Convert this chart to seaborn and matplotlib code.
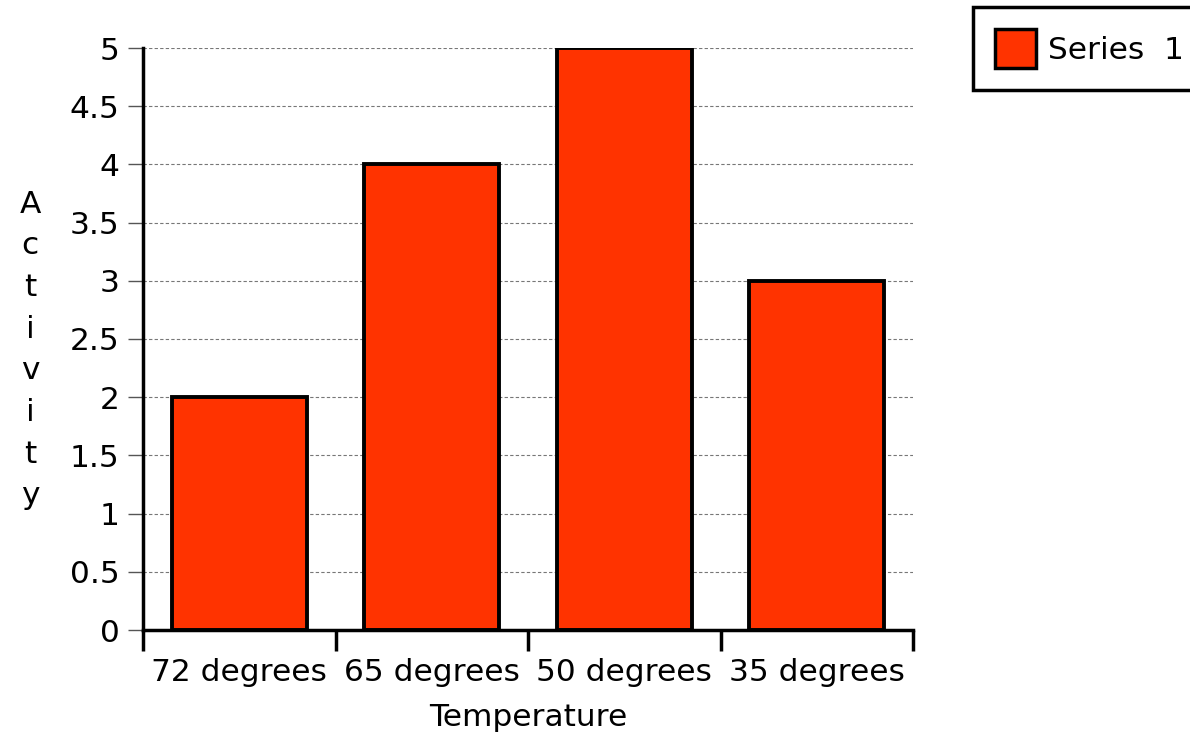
import matplotlib
matplotlib.use("Agg")
import matplotlib.pyplot as plt
import seaborn as sns
from matplotlib.patches import Patch

# data
categories = ["72 degrees", "65 degrees", "50 degrees", "35 degrees"]
activity = [2, 4, 5, 3]
series_name = "Series  1"
y_ticks = [0, 0.5, 1, 1.5, 2, 2.5, 3, 3.5, 4, 4.5, 5]
y_ticklabels = ["0", "0.5", "1", "1.5", "2", "2.5", "3", "3.5", "4", "4.5", "5"]

sns.set_style("white")
plt.rcParams['font.family'] = ['DejaVu Sans']
plt.rcParams['text.color'] = 'black'
plt.rcParams['axes.labelcolor'] = 'black'
plt.rcParams['xtick.color'] = 'black'
plt.rcParams['ytick.color'] = 'black'
fs = 22.5

fig = plt.figure(figsize=(11.9, 7.39), dpi=100)
ax = fig.add_axes([143 / 1190, 1 - 630 / 739, (913 - 143) / 1190, (630 - 48) / 739])

sns.barplot(x=categories, y=activity, color="#FF3300", edgecolor="black",
            linewidth=2.8, width=0.7, saturation=1, ax=ax)

ax.set_ylim(0, 5)
ax.set_xlim(-0.5, 3.5)
ax.set_yticks(y_ticks)
ax.set_yticklabels(y_ticklabels, fontsize=fs, color="black")
ax.tick_params(axis="y", length=11, width=1, color="#555555", pad=6, left=True)
ax.tick_params(axis="x", which="major", length=0, pad=20, labelsize=fs, labelcolor="black")
ax.set_xticks([-0.5, 0.5, 1.5, 2.5, 3.5], minor=True)
ax.tick_params(axis="x", which="minor", length=15, width=2.5, color="black", bottom=True)

ax.set_axisbelow(True)
ax.yaxis.grid(True, linestyle=(0, (3, 2)), color="#777777", linewidth=0.8)
ax.xaxis.grid(False)

sns.despine(ax=ax)
for s in ["left", "bottom"]:
    ax.spines[s].set_color("black")
    ax.spines[s].set_linewidth(2.5)

ax.set_xlabel("Temperature", fontsize=fs, labelpad=12, color="black")
ax.set_ylabel("")
fig.text(30 / 1190, 1 - 350 / 739, "\n".join("Activity"), fontsize=fs,
         ha="center", va="center", linespacing=1.55, color="black")

handle = Patch(facecolor="#FF3300", edgecolor="black", linewidth=2.5)
leg = fig.legend([handle], [series_name], loc="upper left",
                 bbox_to_anchor=(973 / 1190, 1 - 7 / 739), fontsize=fs,
                 frameon=True, fancybox=False, framealpha=1,
                 handlelength=1.3, handleheight=1.55,
                 handletextpad=0.4, borderpad=0.7, borderaxespad=0)
leg.get_frame().set_edgecolor("black")
leg.get_frame().set_linewidth(2.5)

fig.savefig("out.png", dpi=100)
